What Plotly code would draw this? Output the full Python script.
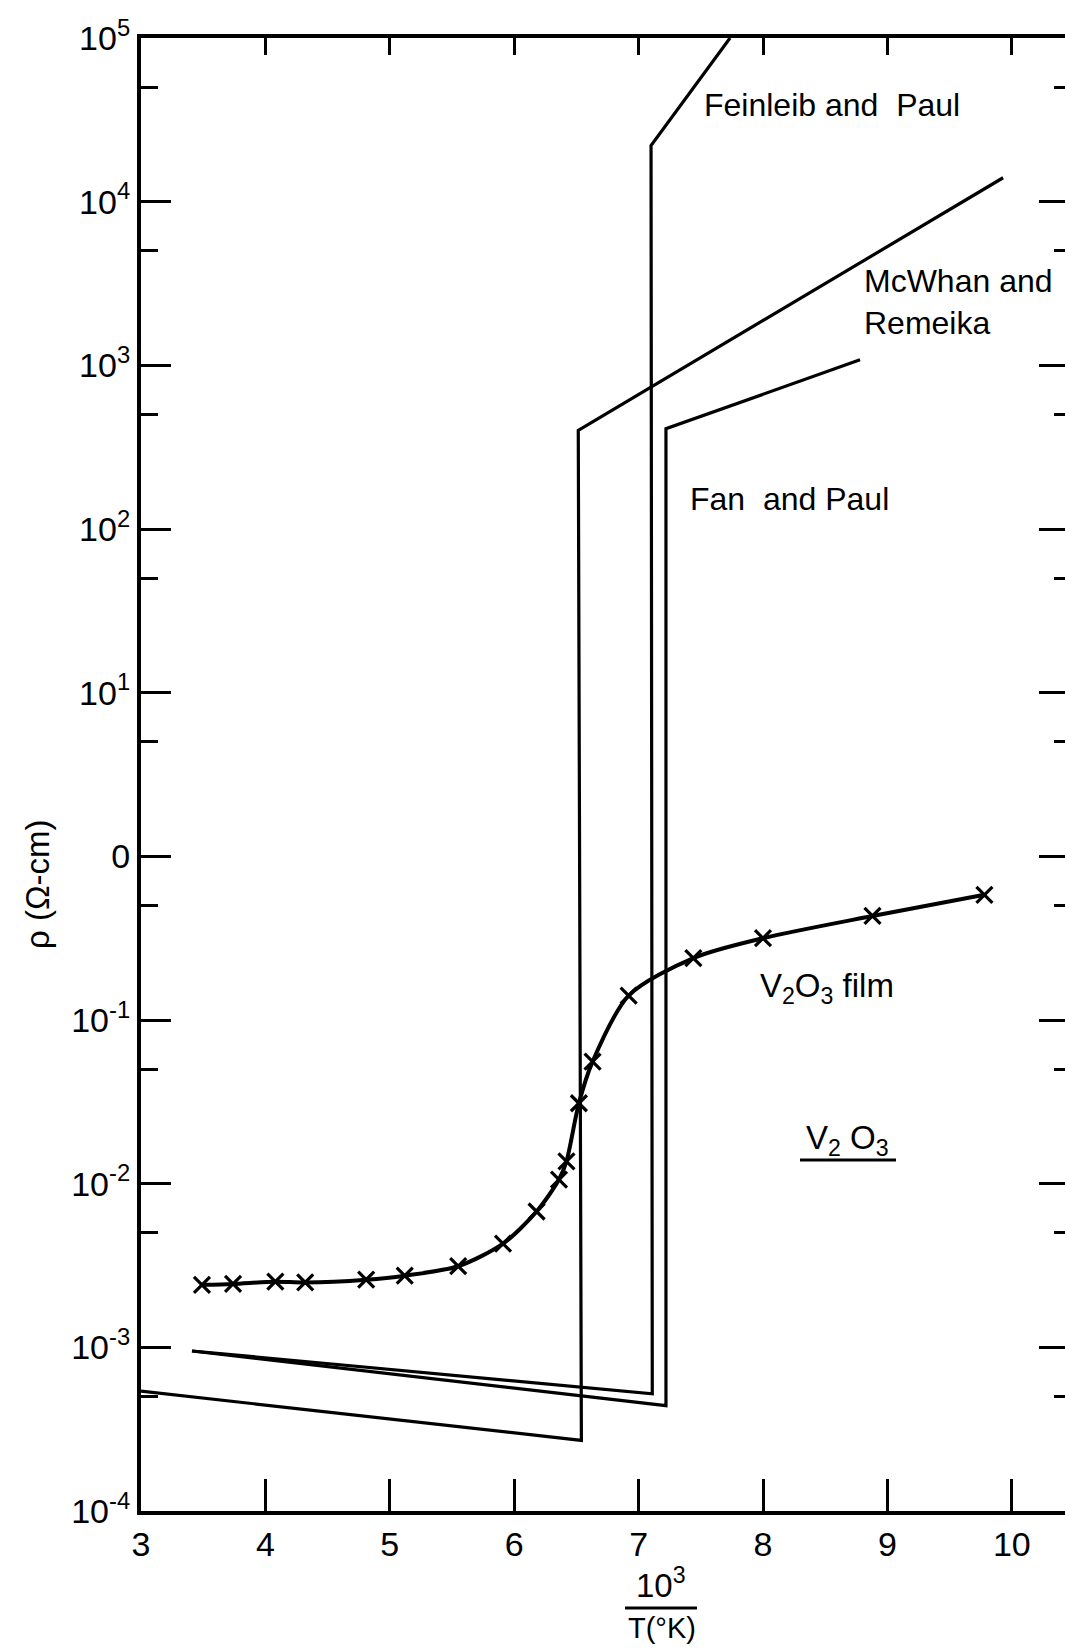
import plotly.graph_objects as go

# ---------------- data ----------------
# V2O3 film measurements (x = 10^3/T, rho in ohm-cm)
film_x = [3.49, 3.74, 4.08, 4.32, 4.81, 5.12, 5.55, 5.91, 6.18, 6.36, 6.42,
          6.52, 6.63, 6.92, 7.44, 8.00, 8.88, 9.78]
film_rho = [2.41e-3, 2.44e-3, 2.52e-3, 2.49e-3, 2.59e-3, 2.74e-3, 3.13e-3,
            4.30e-3, 6.76e-3, 1.06e-2, 1.37e-2, 3.10e-2, 5.57e-2, 0.141,
            0.239, 0.316, 0.432, 0.582]

# Feinleib and Paul
fp_x = [3.41, 7.11, 7.10, 7.735]
fp_rho = [9.5e-4, 5.2e-4, 2.2e4, 1e5]

# Fan and Paul
fan_x = [3.41, 7.22, 7.22, 8.78]
fan_rho = [9.5e-4, 4.4e-4, 4.1e2, 1.08e3]

# McWhan and Remeika
mr_x = [3.0, 6.54, 6.515, 9.93]
mr_rho = [5.4e-4, 2.7e-4, 4.0e2, 1.4e4]

# axis ticks
x_ticks = [3, 4, 5, 6, 7, 8, 9, 10]
x_ticktext = ["3", "4", "5", "6", "7", "8", "9", "10"]
y_ticks = [1e5, 1e4, 1e3, 1e2, 1e1, 1e0, 1e-1, 1e-2, 1e-3, 1e-4]
y_ticktext = ["10<sup>5</sup>", "10<sup>4</sup>", "10<sup>3</sup>", "10<sup>2</sup>",
              "10<sup>1</sup>", "0", "10<sup>-1</sup>", "10<sup>-2</sup>",
              "10<sup>-3</sup>", "10<sup>-4</sup>"]
y_minor = [5e4, 5e3, 5e2, 5e1, 5e0, 5e-1, 5e-2, 5e-3, 5e-4]

FONT = "Liberation Sans, Arial, sans-serif"
LW = 3.2
TICKSIZE = 34

fig = go.Figure()

for xs, ys in [(fp_x, fp_rho), (fan_x, fan_rho), (mr_x, mr_rho)]:
    fig.add_trace(go.Scatter(x=xs, y=ys, mode="lines",
                             line=dict(color="black", width=LW),
                             showlegend=False, hoverinfo="skip"))

fig.add_trace(go.Scatter(x=film_x, y=film_rho, mode="lines+markers",
                         line=dict(color="black", width=4, shape="spline", smoothing=0.8),
                         marker=dict(symbol="x-thin", size=16,
                                     line=dict(color="black", width=3.2)),
                         showlegend=False, hoverinfo="skip"))

# secondary axes for top and right ticks
fig.add_trace(go.Scatter(x=[3], y=[1], xaxis="x2", yaxis="y2", mode="markers",
                         marker=dict(opacity=0), showlegend=False, hoverinfo="skip"))

X0, X1 = 3, 3 + 924 / 124.4

fig.update_layout(
    width=1065, height=1649,
    margin=dict(l=141, r=0, t=38, b=138),
    paper_bgcolor="white", plot_bgcolor="white",
    font=dict(family=FONT, color="black", size=30),
    xaxis=dict(range=[X0, X1], showgrid=False, zeroline=False,
               showline=True, linecolor="black", linewidth=4,
               ticks="inside", ticklen=32, tickwidth=2.5, tickcolor="black",
               tickmode="array", tickvals=x_ticks, ticktext=x_ticktext,
               tickfont=dict(size=TICKSIZE, family=FONT)),
    xaxis2=dict(range=[X0, X1], overlaying="x", side="top", anchor="y",
                showgrid=False, zeroline=False,
                showline=True, linecolor="black", linewidth=4,
                ticks="inside", ticklen=17, tickwidth=2.5, tickcolor="black",
                tickmode="array", tickvals=x_ticks, showticklabels=False),
    yaxis=dict(type="log", range=[-4, 5], showgrid=False, zeroline=False,
               showline=True, linecolor="black", linewidth=4,
               ticks="inside", ticklen=30, tickwidth=2.8, tickcolor="black",
               tickmode="array", tickvals=y_ticks, ticktext=y_ticktext,
               tickfont=dict(size=TICKSIZE, family=FONT),
               minor=dict(tickmode="array", tickvals=y_minor, ticks="inside",
                          ticklen=17, tickwidth=2.8, tickcolor="black", showgrid=False)),
    yaxis2=dict(type="log", range=[-4, 5], overlaying="y", side="right", anchor="x",
                showgrid=False, zeroline=False, showline=False,
                ticks="inside", ticklen=26, tickwidth=2.8, tickcolor="black",
                tickmode="array", tickvals=y_ticks, showticklabels=False,
                minor=dict(tickmode="array", tickvals=y_minor, ticks="inside",
                           ticklen=11, tickwidth=2.8, tickcolor="black", showgrid=False)),
)

PW, PH, PX0, PYB = 924.0, 1473.0, 141.0, 1511.0


def px(x):
    return (x - PX0) / PW


def py(y):
    return (PYB - y) / PH


def note(text, x, y, xanchor="left", size=32, angle=0, align="left"):
    fig.add_annotation(text=text, xref="paper", yref="paper", x=px(x), y=py(y),
                       xanchor=xanchor, yanchor="middle", showarrow=False,
                       textangle=angle, align=align, borderpad=0,
                       font=dict(family=FONT, size=size, color="black"))


note("Feinleib and\u00a0 Paul", 703, 105)
note("McWhan and<br>Remeika", 863, 302)
note("Fan\u00a0 and Paul", 689, 499)
note("V<sub>2</sub>O<sub>3</sub> film", 759, 988, size=33)
note("V<sub>2</sub> O<sub>3</sub>", 805, 1140, size=33)
note("\u03c1 (\u03a9-cm)", 37, 884, xanchor="center", size=33, angle=-90)
note("10<sup>3</sup>", 661, 1583, xanchor="center", size=33)
note("T(\u00b0K)", 662, 1628, xanchor="center", size=29)

# underline of V2O3 and fraction bar
fig.add_shape(type="line", xref="paper", yref="paper",
              x0=px(800), x1=px(896), y0=py(1160), y1=py(1160),
              line=dict(color="black", width=2.8))
fig.add_shape(type="line", xref="paper", yref="paper",
              x0=px(625), x1=px(697), y0=py(1608), y1=py(1608),
              line=dict(color="black", width=3.2))

fig.write_html("out.html", config={"displayModeBar": False})
